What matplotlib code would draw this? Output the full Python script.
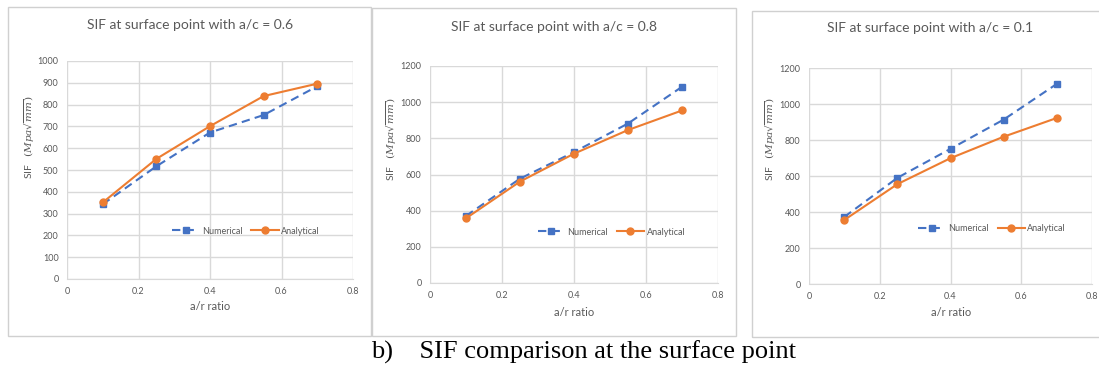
import matplotlib
matplotlib.use("Agg")
import matplotlib.pyplot as plt
from matplotlib.patches import Rectangle
from matplotlib.ticker import FuncFormatter

plt.rcParams['font.family'] = ['Lato', 'DejaVu Sans']
plt.rcParams['mathtext.fontset'] = 'dejavuserif'

ratios = [0.1, 0.25, 0.4, 0.55, 0.7]

titles = ["SIF at surface point with a/c = 0.6",
          "SIF at surface point with a/c = 0.8",
          "SIF at surface point with a/c = 0.1"]

num_06 = [343, 517, 672, 752, 884]
ana_06 = [351, 551, 701, 839, 896]
num_08 = [371, 577, 724, 882, 1085]
ana_08 = [358, 561, 715, 846, 954]
num_01 = [373, 590, 751, 913, 1111]
ana_01 = [356, 555, 699, 818, 922]

numerical = [num_06, num_08, num_01]
analytical = [ana_06, ana_08, ana_01]
ymaxes = [1000, 1200, 1200]
ysteps = [100, 200, 200]
xticks = [0, 0.2, 0.4, 0.6, 0.8]
xlabel = "a/r ratio"
ylabel = r"SIF   $(\mathit{Mpa}\sqrt{mm})$"
legend_labels = ["Numerical", "Analytical"]
caption = "b)    SIF comparison at the surface point"

W, H = 1099, 370
fig = plt.figure(figsize=(W / 100, H / 100), dpi=100)

BLUE = "#4472C4"
ORANGE = "#ED7D31"
GRID = "#D9D9D9"
TXT = "#595959"

# layout in pixels
axes_px = [(67, 353, 61, 279), (430, 718, 66, 283), (809, 1092, 68, 284)]
boxes_px = [(8, 371, 7, 336), (372, 736, 8, 336), (752, 1110, 11, 337)]
title_px = [(190, 25), (554, 27), (930, 28)]
ylab_px = [(30, 137), (392, 139), (771, 139)]
xlab_px = [(210, 306), (574, 312), (951, 312)]
leg_pos = [(0.626, 0.22), (0.63, 0.235), (0.647, 0.255)]


def fx(x):
    return x / W


def fy(y):
    return 1 - y / H


for (x0, x1, y0, y1) in boxes_px:
    fig.patches.append(Rectangle((fx(x0), fy(y1)), fx(x1 - x0), (y1 - y0) / H,
                                 transform=fig.transFigure, fill=False,
                                 edgecolor="#D0D0D0", linewidth=1.0))

for i in range(3):
    l, r, t, b = axes_px[i]
    ax = fig.add_axes([fx(l), fy(b), fx(r - l), (b - t) / H])
    ax.plot(ratios, numerical[i], color=BLUE, linestyle=(0, (4, 2.5)), linewidth=1.5,
            marker='s', markersize=5, label=legend_labels[0])
    ax.plot(ratios, analytical[i], color=ORANGE, linestyle='-', linewidth=1.5,
            marker='o', markersize=5, label=legend_labels[1])
    ax.set_xlim(0, 0.8)
    ax.set_ylim(0, ymaxes[i])
    ax.set_xticks(xticks)
    ax.set_yticks(list(range(0, ymaxes[i] + 1, ysteps[i])))
    ax.xaxis.set_major_formatter(FuncFormatter(lambda v, p: "0" if v == 0 else f"{v:g}"))
    ax.grid(True, color=GRID, linewidth=1.0)
    ax.set_axisbelow(True)
    for s in ax.spines.values():
        s.set_visible(False)
    ax.spines['bottom'].set_visible(True)
    ax.spines['bottom'].set_color(GRID)
    ax.tick_params(length=0, labelsize=6.5, colors=TXT, pad=6)
    leg = ax.legend(loc='center', bbox_to_anchor=leg_pos[i], ncol=2, frameon=False,
                    fontsize=6.5, handlelength=3.0, columnspacing=1.0, handletextpad=0.3,
                    labelcolor=TXT)
    tx, ty = title_px[i]
    fig.text(fx(tx), fy(ty), titles[i], ha='center', va='center', fontsize=10, color=TXT)
    lx, ly = ylab_px[i]
    fig.text(fx(lx), fy(ly), ylabel, ha='center', va='center', rotation=90,
             fontsize=7.5, color=TXT)
    xx, xy = xlab_px[i]
    fig.text(fx(xx), fy(xy), xlabel, ha='center', va='center', fontsize=8, color=TXT)

fig.text(fx(584), fy(352), caption, ha='center', va='center', fontsize=19,
         family=['Liberation Serif', 'DejaVu Serif'], color='black')

fig.savefig("out.png", dpi=100, facecolor='white')
